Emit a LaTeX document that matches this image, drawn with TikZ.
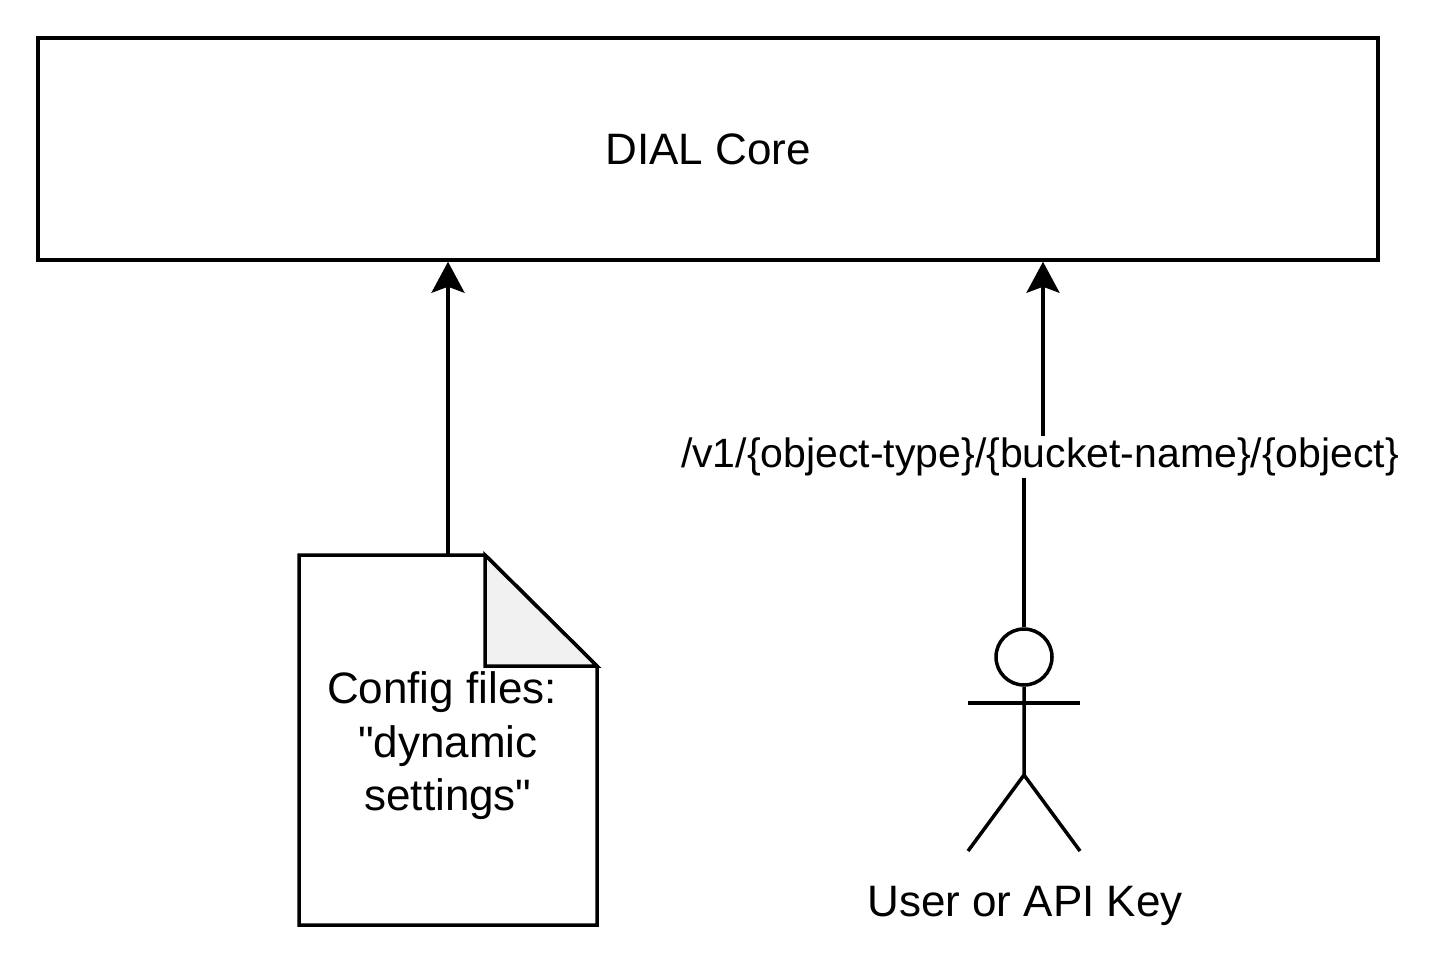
\documentclass[tikz,border=0pt]{standalone}
\usepackage{fontspec}
\setmainfont{Liberation Sans}
\usetikzlibrary{arrows.meta}
\definecolor{foldgray}{HTML}{F1F1F1}
\begin{document}
\begin{tikzpicture}[x=1pt, y=-1pt, line width=3.5pt,
    arr/.style={-{Stealth[length=31pt,width=33pt,inset=6pt]}},
    bigtext/.style={font=\fontsize{44}{53.5}\selectfont}]
    \useasboundingbox (0,0) rectangle (1435,968);
    \node[draw, minimum width=1340pt, minimum height=222pt, inner sep=0pt, bigtext] (core) at (708,149) {DIAL Core};
    % config document
    \draw[fill=white] (299,555) -- (485,555) -- (597,666) -- (597,925) -- (299,925) -- cycle;
    \draw[fill=foldgray] (485,555) -- (485,666) -- (597,666) -- cycle;
    \node[align=center, bigtext] (cfg) at (448,746) {Config files:\hspace*{12pt}\\\textquotedbl dynamic\\settings\textquotedbl};
    \coordinate (cfgtop) at (448,555);
    \draw[arr] (cfgtop) -- (cfgtop |- core.south);
    % actor
    \node[circle, draw, minimum size=56pt, inner sep=0pt] (head) at (1024,657) {};
    \coordinate (hip) at (1024,775);
    \draw (968,703) -- (1080,703);
    \draw (head.south) -- (hip) -- (968,851);
    \draw (hip) -- (1080,851);
    \node[bigtext] (user) at (1025,906) {User or API Key};
    % request path
    \coordinate (jog) at (1024,455);
    \coordinate (jogup) at (1043,455);
    \draw[arr] (head.north) -- (jog) -- (jogup) -- (jogup |- core.south);
    \node[fill=white, inner sep=2pt, font=\fontsize{41}{49}\selectfont] (api) at (1040,457) {/v1/\{object-type\}/\{bucket-name\}/\{object\}};
\end{tikzpicture}
\end{document}
